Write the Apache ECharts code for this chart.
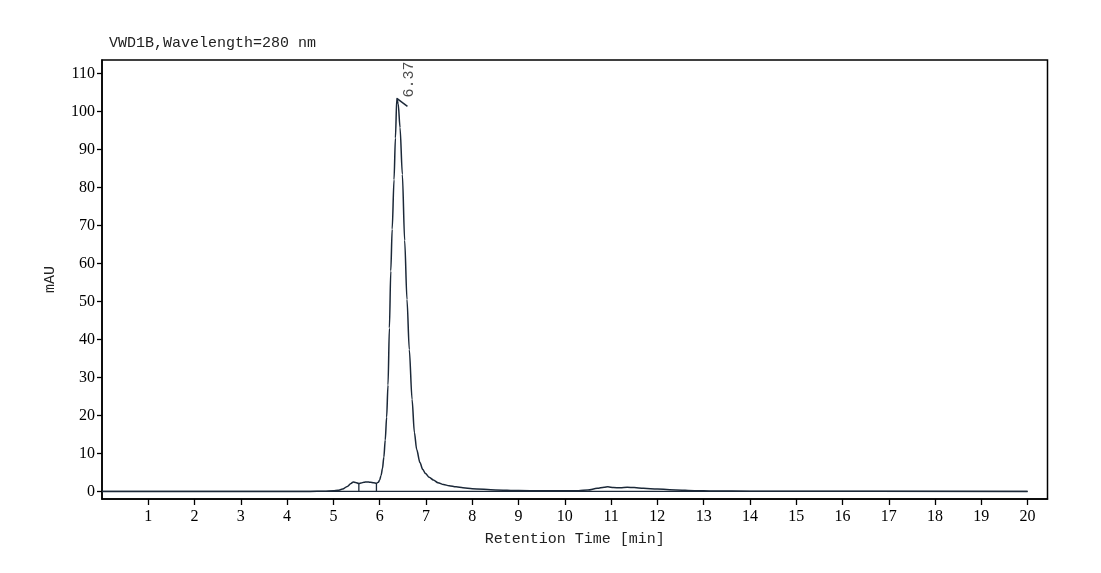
<!DOCTYPE html>
<html>
<head>
<meta charset="utf-8">
<title>VWD1B chromatogram</title>
<script src="https://cdn.jsdelivr.net/npm/echarts@6.0.0/dist/echarts.min.js"></script>
<style>
    html, body { margin: 0; padding: 0; background: #ffffff; }
    #container { width: 1101px; height: 573px; }
</style>
</head>
<body>
<div id="container"></div>
<script>
// chromatogram trace (time in min, signal in mAU)
const times = [
    0, 4.5, 4.8, 5.0, 5.1, 5.2, 5.3, 5.38, 5.43, 5.48, 5.55, 5.6, 5.66, 5.72, 5.8, 5.87, 5.93,
    5.97, 6.0, 6.03, 6.06, 6.09, 6.12, 6.15, 6.18, 6.21, 6.24, 6.27, 6.31, 6.34, 6.37,
    6.40, 6.44, 6.49, 6.54, 6.59, 6.64, 6.70, 6.75, 6.80, 6.87, 6.93, 6.99, 7.07, 7.16, 7.26, 7.38,
    7.5, 7.65, 7.8, 8.0, 8.5, 9.0, 9.5, 10.0, 10.3, 10.5, 10.7, 10.85, 10.93, 11.05, 11.2,
    11.35, 11.5, 11.7, 12.0, 12.4, 12.8, 13.2, 14.0, 20.0
];
const signal = [
    0, 0, 0.05, 0.15, 0.3, 0.6, 1.3, 2.1, 2.5, 2.35, 2.1, 2.2, 2.4, 2.5, 2.4, 2.25, 2.15,
    2.4, 3.0, 4.2, 6.0, 9.0, 13.5, 19.5, 28, 43, 58, 69, 82, 93, 103.4,
    102, 95.7, 83.4, 66, 50.5, 37.3, 24.2, 15.5, 11, 7.6, 5.8, 4.7, 3.7, 3.0, 2.3, 1.8,
    1.5, 1.2, 0.95, 0.7, 0.4, 0.22, 0.15, 0.15, 0.2, 0.35, 0.8, 1.1, 1.2, 1.0, 0.95,
    1.1, 1.0, 0.8, 0.6, 0.4, 0.2, 0.1, 0.05, 0
];

// integration drop lines
const dropTimes = [5.55, 5.93];
const dropHeights = [2.1, 2.15];

// labelled peak
const peakTime = 6.37;
const peakHeight = 103.4;
const peakLabel = '6.37';

// ticks
const xTicks = [1, 2, 3, 4, 5, 6, 7, 8, 9, 10, 11, 12, 13, 14, 15, 16, 17, 18, 19, 20];
const yTicks = [0, 10, 20, 30, 40, 50, 60, 70, 80, 90, 100, 110];

let dom = document.getElementById('container');
let myChart = echarts.init(dom, null, { renderer: 'canvas' });

const traceColor = '#1b2838';
const monoFont = '"Liberation Mono", "DejaVu Sans Mono", monospace';
const serifFont = '"Liberation Serif", "DejaVu Serif", serif';

const trace = times.map((t, i) => [t, signal[i]]);

const dropSeries = dropTimes.map((t, i) => ({
    type: 'line',
    data: [[t, 0], [t, dropHeights[i]]],
    symbol: 'none',
    silent: true,
    lineStyle: { color: traceColor, width: 1.3 },
    z: 3
}));

const option = {
    backgroundColor: '#ffffff',
    animation: false,
    title: {
        text: 'VWD1B,Wavelength=280 nm',
        left: 104,
        top: 31,
        textStyle: { fontFamily: monoFont, fontSize: 15, fontWeight: 'normal', color: '#222' }
    },
    grid: {
        left: 102,
        right: 53.5,
        top: 60,
        bottom: 74,
        show: true,
        borderColor: '#000',
        borderWidth: 1.5
    },
    xAxis: {
        type: 'value',
        min: 0,
        max: 20.43,
        name: 'Retention Time [min]',
        nameLocation: 'middle',
        nameGap: 33,
        nameTextStyle: { fontFamily: monoFont, fontSize: 15, color: '#222' },
        axisLine: { show: true, onZero: false, lineStyle: { color: '#000', width: 1.5 } },
        axisTick: { show: true, customValues: xTicks, length: 6, lineStyle: { color: '#000', width: 1.3 } },
        axisLabel: {
            customValues: xTicks,
            margin: 10,
            fontFamily: serifFont,
            fontSize: 16,
            color: '#000'
        },
        splitLine: { show: false }
    },
    yAxis: {
        type: 'value',
        min: -2,
        max: 113.5,
        name: 'mAU',
        nameLocation: 'middle',
        nameGap: 44,
        nameTextStyle: { fontFamily: monoFont, fontSize: 15, color: '#222' },
        axisLine: { show: true, onZero: false, lineStyle: { color: '#000', width: 1.5 } },
        axisTick: { show: true, customValues: yTicks, length: 5, lineStyle: { color: '#000', width: 1.3 } },
        axisLabel: {
            customValues: yTicks,
            margin: 7,
            fontFamily: serifFont,
            fontSize: 16,
            color: '#000'
        },
        splitLine: { show: false }
    },
    series: [
        {
            name: 'VWD1B',
            type: 'line',
            data: trace,
            symbol: 'none',
            smooth: 0.3,
            smoothMonotone: 'x',
            lineStyle: { color: traceColor, width: 1.5 },
            z: 4
        },
        {
            // baseline
            type: 'line',
            data: [[0, 0], [20, 0]],
            symbol: 'none',
            silent: true,
            lineStyle: { color: traceColor, width: 1.3 },
            z: 3
        },
        ...dropSeries,
        {
            // apex tick mark
            type: 'line',
            data: [[peakTime, peakHeight], [peakTime + 0.23, peakHeight - 2.1]],
            symbol: 'none',
            silent: true,
            lineStyle: { color: traceColor, width: 1.5 },
            z: 5
        },
        {
            type: 'scatter',
            data: [[peakTime, peakHeight]],
            symbolSize: 0,
            silent: true,
            label: {
                show: true,
                formatter: peakLabel,
                position: [12, -1],
                rotate: 90,
                align: 'left',
                verticalAlign: 'middle',
                fontFamily: monoFont,
                fontSize: 15,
                color: '#222'
            },
            z: 6
        }
    ]
};

myChart.setOption(option);
window.addEventListener('resize', () => {
    myChart.resize();
});
</script>
</body>
</html>
